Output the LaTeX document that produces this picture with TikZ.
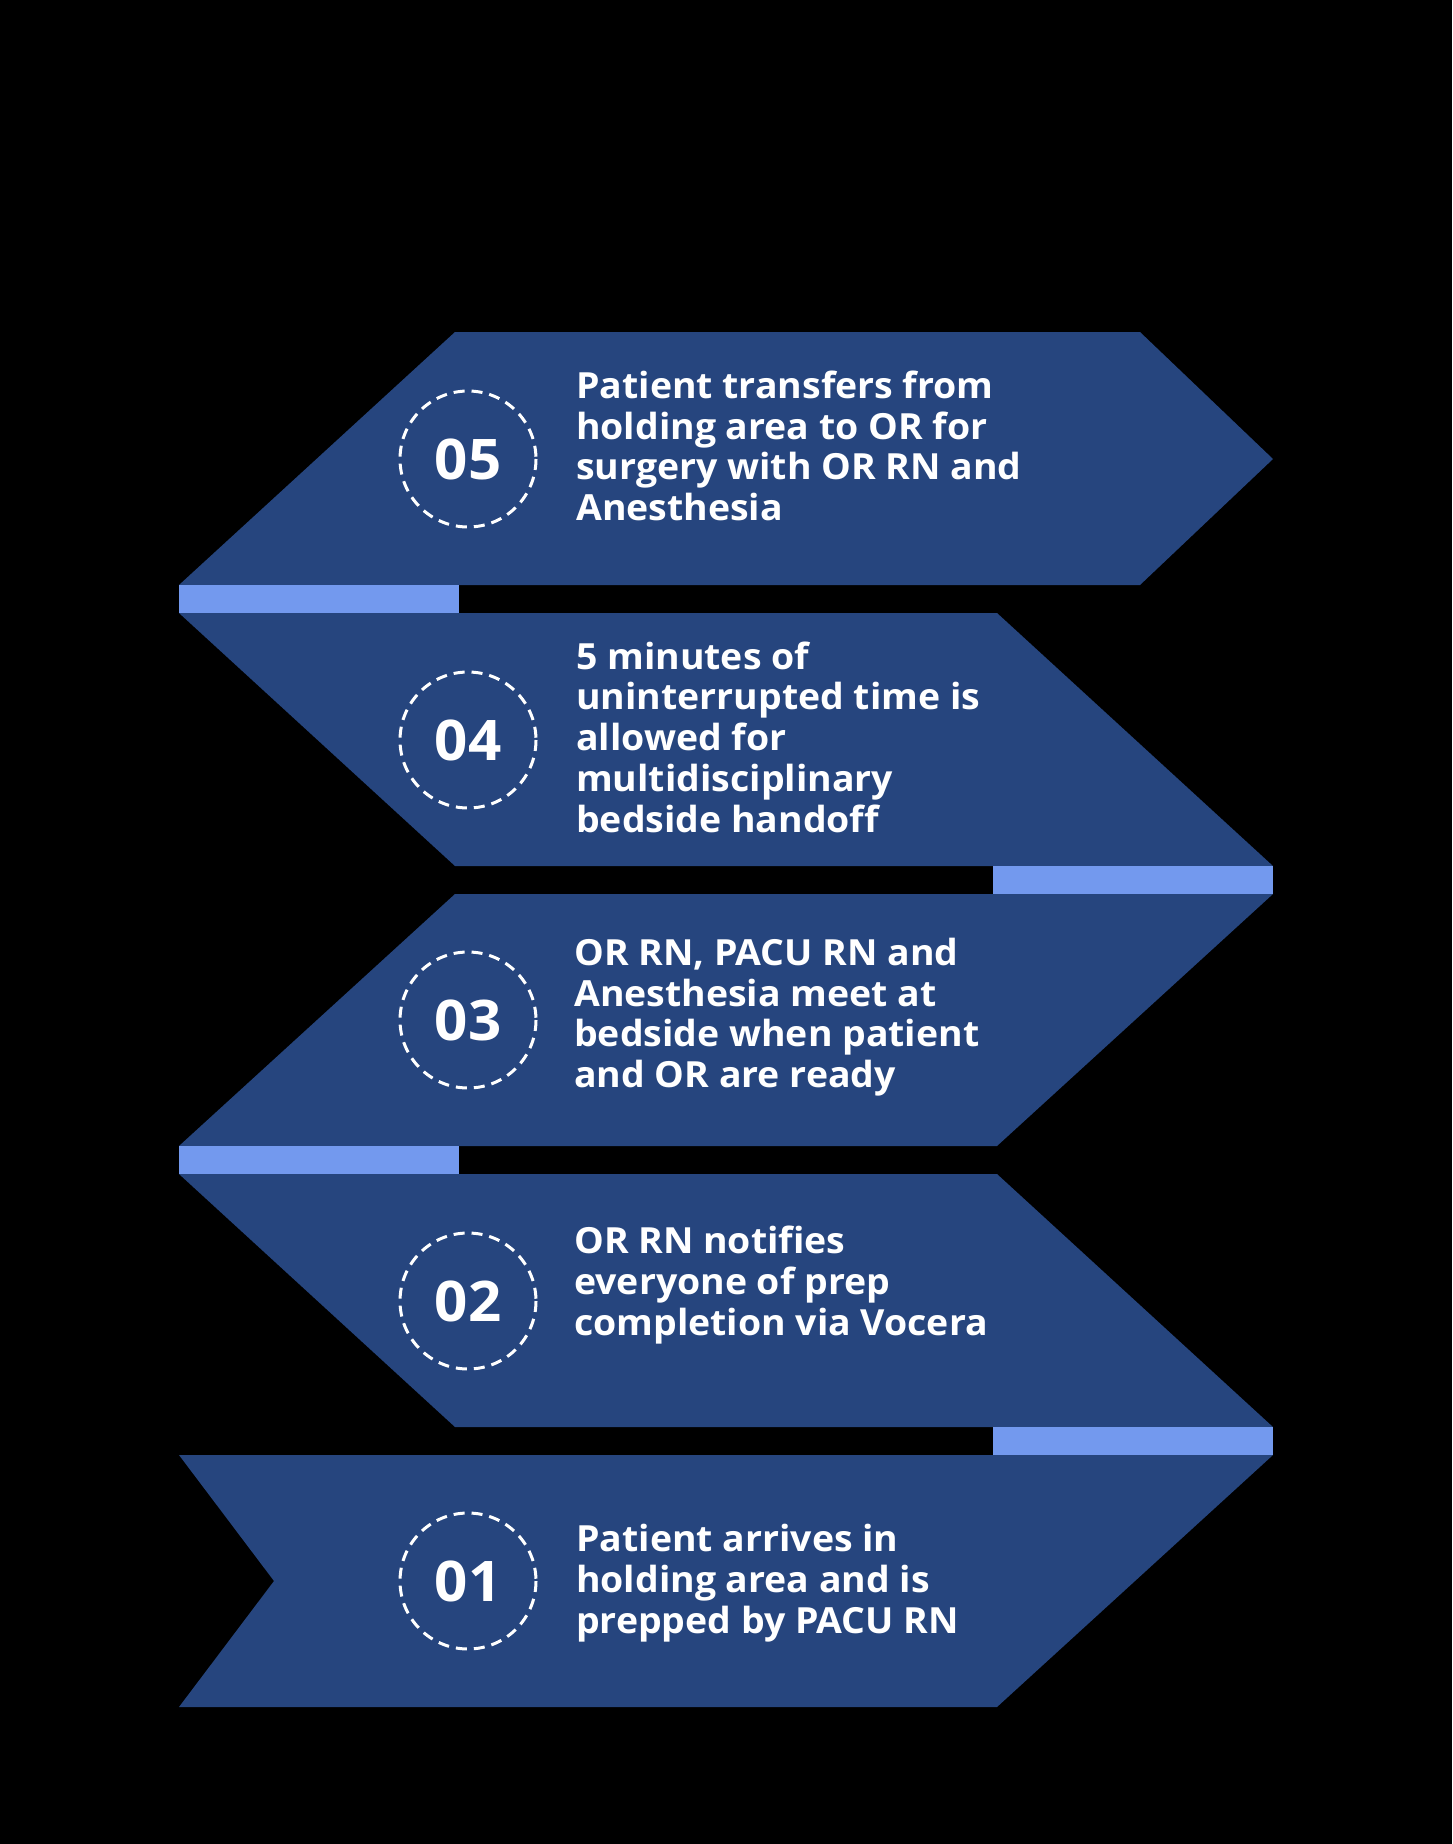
\documentclass[tikz,border=0pt]{standalone}
\usepackage{fontspec}
\setmainfont{Open Sans}[Ligatures={NoCommon}, FakeStretch=1.04]
\definecolor{bandblue}{HTML}{26457E}
\definecolor{barblue}{HTML}{7399EE}
\tikzset{
  band/.style={fill=bandblue, draw=none},
  bar/.style={fill=barblue, draw=none},
  ring/.style={draw=white, line width=3pt, dash pattern=on 11pt off 7pt, fill=none},
  numtxt/.style={text=white, font=\fontsize{56}{60}\selectfont\bfseries, inner sep=0pt},
  steptxt/.style={text=white, font=\fontsize{36}{40.7}\selectfont\bfseries, align=left, anchor=west, inner sep=0pt}
}
\begin{document}
\begin{tikzpicture}[x=1pt,y=-1pt]
\fill[black] (0,0) rectangle (1452,1844);
\useasboundingbox (0,0) rectangle (1452,1844);
% bands
\fill[band] (455,332) -- (1140,332) -- (1273,459) -- (1140,585) -- (179,585) -- cycle;
\fill[bar] (179,585) rectangle (459,613);
\fill[band] (179,613) -- (997,613) -- (1273,866) -- (455,866) -- cycle;
\fill[bar] (993,866) rectangle (1273,894);
\fill[band] (455,894) -- (1273,894) -- (997,1146) -- (179,1146) -- cycle;
\fill[bar] (179,1146) rectangle (459,1174);
\fill[band] (179,1174) -- (997,1174) -- (1273,1427) -- (455,1427) -- cycle;
\fill[bar] (993,1427) rectangle (1273,1455);
\fill[band] (179,1455) -- (1273,1455) -- (997,1707) -- (179,1707) -- (274,1581) -- cycle;
% rings and numbers
\foreach \n/\y in {05/459, 04/740, 03/1020, 02/1301, 01/1581}{
  \draw[ring] (468,\y) circle[radius=68];
  \node[numtxt] (num\n) at (468,\y) {\n};
}
% texts
\node[steptxt] (t5) at (576,446) {Patient transfers from\\holding area to OR for\\surgery with OR RN and\\Anesthesia};
\node[steptxt] (t4) at (576,737) {5 minutes of\\uninterrupted time is\\allowed for\\multidisciplinary\\bedside handoff};
\node[steptxt] (t3) at (574,1017) {OR RN, PACU RN and\\Anesthesia meet at\\bedside when patient\\and OR are ready};
\node[steptxt] (t2) at (574,1285) {OR RN notifies\\everyone of prep\\completion via Vocera};
\node[steptxt] (t1) at (576,1583) {Patient arrives in\\holding area and is\\prepped by PACU RN};
\end{tikzpicture}
\end{document}
